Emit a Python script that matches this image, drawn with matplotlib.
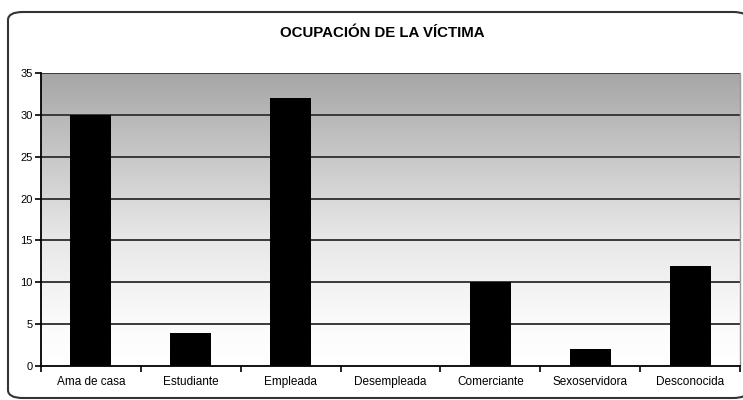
import matplotlib
matplotlib.use("Agg")
import matplotlib.pyplot as plt
import numpy as np
from matplotlib.patches import FancyBboxPatch
from matplotlib.colors import LinearSegmentedColormap

categories = ["Ama de casa", "Estudiante", "Empleada", "Desempleada",
              "Comerciante", "Sexoservidora", "Desconocida"]
values = [30, 4, 32, 0, 10, 2, 12]
yticks = [0, 5, 10, 15, 20, 25, 30, 35]
title = "OCUPACIÓN DE LA VÍCTIMA"

plt.rcParams['font.family'] = ['Liberation Sans', 'DejaVu Sans']

fig = plt.figure(figsize=(7.43, 4.0), dpi=100)
fig.patch.set_facecolor('white')

frame = FancyBboxPatch((8/743, 2/400), 740/743, 386/400,
                       boxstyle="round,pad=0,rounding_size=0.02",
                       transform=fig.transFigure, facecolor='white',
                       edgecolor='#333333', linewidth=1.5, zorder=-5)
fig.patches.append(frame)

ax = fig.add_axes([41/743, 34/400, 699/743, 293/400])
ax.set_zorder(2)
ax.set_xlim(-0.5, len(categories) - 0.5)
ax.set_ylim(0, 35)

# gradient background
cmap = LinearSegmentedColormap.from_list('g', [(0, '#ffffff'), (0.15, '#fbfbfb'),
                                               (0.45, '#e6e6e6'), (0.75, '#c4c4c4'),
                                               (1.0, '#a6a6a6')])
grad = np.linspace(0, 1, 256).reshape(-1, 1)
ax.imshow(grad, aspect='auto', cmap=cmap, origin='lower',
          extent=[-0.5, len(categories) - 0.5, 0, 35], zorder=0)

for y in yticks[1:]:
    ax.axhline(y, color='#3a3a3a', linewidth=1.4, zorder=1)

x = np.arange(len(categories))
ax.bar(x, values, width=0.41, color='black', zorder=2)

ax.set_yticks(yticks)
ax.set_yticklabels([str(v) for v in yticks], fontsize=8)
ax.set_xticks(x)
ax.set_xticklabels(categories, fontsize=8.5)
ax.set_xticks(np.arange(len(categories) + 1) - 0.5, minor=True)
ax.tick_params(axis='x', which='major', length=0, pad=7)
ax.tick_params(axis='x', which='minor', length=4, width=1.2, direction='out')
ax.tick_params(axis='y', length=4, width=1.2, direction='out', pad=2)

for s in ['left', 'bottom']:
    ax.spines[s].set_color('black')
    ax.spines[s].set_linewidth(1.3)
ax.spines['top'].set_visible(False)
ax.spines['right'].set_color('#999999')
ax.spines['right'].set_linewidth(1.0)

fig.text(0.514, 1 - 33/400, title, ha='center', va='center', fontsize=10.8,
         fontweight='bold')

fig.savefig('out.png', dpi=100)
